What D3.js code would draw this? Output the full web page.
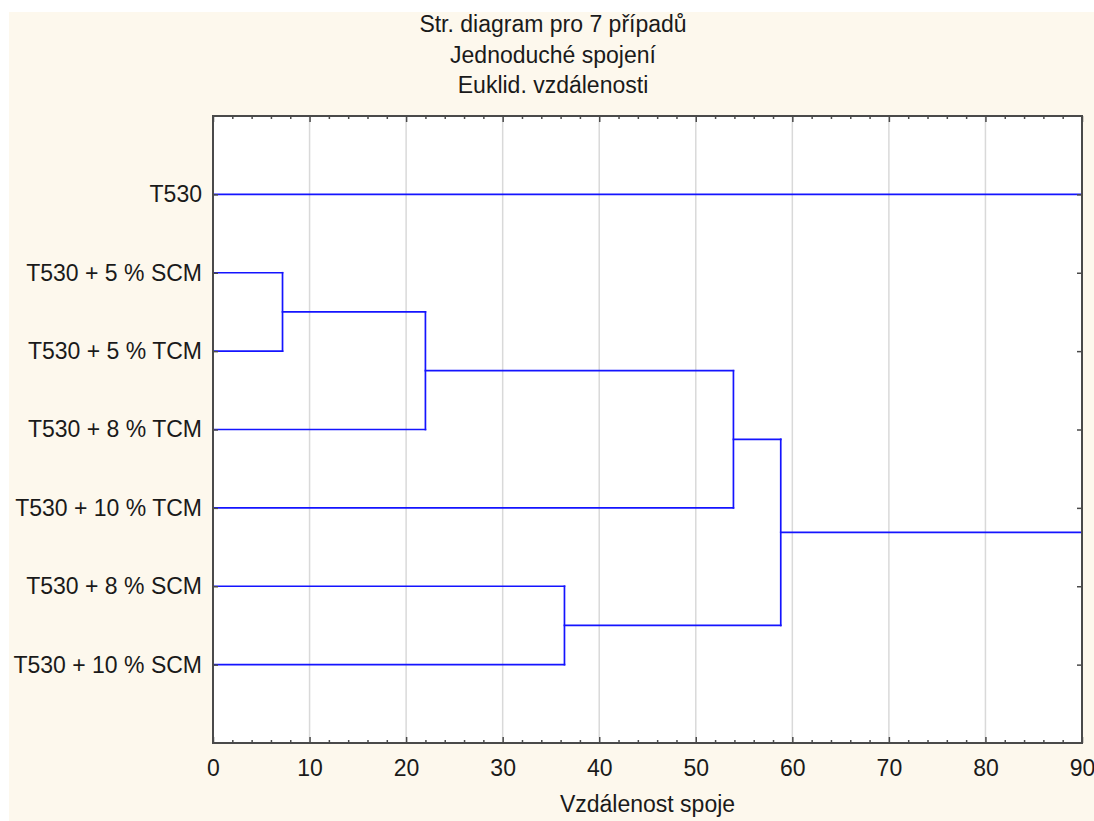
<!DOCTYPE html>
<html>
<head>
<meta charset="utf-8">
<script src="https://cdn.jsdelivr.net/npm/d3@7"></script>
<style>
  html, body { margin: 0; padding: 0; background: #ffffff; }
  svg { display: block; font-family: "Liberation Sans", Arial, sans-serif; }
</style>
</head>
<body>
<svg id="chart" width="1094" height="821"></svg>
<script>
// Leaf order along the vertical axis (top to bottom)
const leaves = [
  "T530",
  "T530 + 5 % SCM",
  "T530 + 5 % TCM",
  "T530 + 8 % TCM",
  "T530 + 10 % TCM",
  "T530 + 8 % SCM",
  "T530 + 10 % SCM"
];

// Single-linkage merge steps: [first member, second member, linkage distance]
const mergeIds     = ["m1", "m2", "m3", "m4", "m5", "m6"];
const mergeFirst   = ["T530 + 5 % SCM", "m1", "m2", "T530 + 8 % SCM", "m3", "T530"];
const mergeSecond  = ["T530 + 5 % TCM", "T530 + 8 % TCM", "T530 + 10 % TCM", "T530 + 10 % SCM", "m4", "m5"];
const mergeHeights = [7.2, 22.0, 53.9, 36.4, 58.8, 90];

// Axis definition
const xDomain = [0, 90];
const xMajorTicks = [0, 10, 20, 30, 40, 50, 60, 70, 80, 90];
const xMinorStep = 2;

const titleLines = ["Str. diagram pro 7 případů", "Jednoduché spojení", "Euklid. vzdálenosti"];
const xTitle = "Vzdálenost spoje";

const W = 1094, H = 821;
const plot = { left: 213, right: 1082, top: 116, bottom: 743 };
const fontSize = 23;
const textColor = "#1a1a1a";

const svg = d3.select("#chart");

// Panel background
svg.append("rect").attr("x", 0).attr("y", 0).attr("width", W).attr("height", H).attr("fill", "#ffffff");
svg.append("rect").attr("x", 9).attr("y", 12).attr("width", W - 9).attr("height", H - 12).attr("fill", "#fdf8ed");
svg.append("rect")
  .attr("x", plot.left).attr("y", plot.top)
  .attr("width", plot.right - plot.left).attr("height", plot.bottom - plot.top)
  .attr("fill", "#ffffff");

const x = d3.scaleLinear().domain(xDomain).range([plot.left, plot.right]);
const y = d3.scalePoint().domain(leaves).range([plot.top, plot.bottom]).padding(1);

// Vertical grid lines at major ticks
svg.append("g").selectAll("line")
  .data(xMajorTicks.filter(t => t > xDomain[0] && t < xDomain[1]))
  .join("line")
  .attr("x1", d => x(d)).attr("x2", d => x(d))
  .attr("y1", plot.top).attr("y2", plot.bottom)
  .attr("stroke", "#d9d9d9").attr("stroke-width", 1.5);

// Compute node positions for the dendrogram
const nodePos = new Map();
leaves.forEach(l => nodePos.set(l, { x: x(0), y: y(l) }));
const segs = [];
mergeIds.forEach((id, i) => {
  const a = nodePos.get(mergeFirst[i]);
  const b = nodePos.get(mergeSecond[i]);
  const hx = x(mergeHeights[i]);
  segs.push([a.x, a.y, hx, a.y]);
  segs.push([b.x, b.y, hx, b.y]);
  segs.push([hx, a.y, hx, b.y]);
  nodePos.set(id, { x: hx, y: (a.y + b.y) / 2 });
});

svg.append("defs").append("clipPath").attr("id", "plotClip")
  .append("rect")
  .attr("x", plot.left).attr("y", plot.top)
  .attr("width", plot.right - plot.left).attr("height", plot.bottom - plot.top);

svg.append("g").attr("clip-path", "url(#plotClip)")
  .selectAll("line").data(segs).join("line")
  .attr("x1", d => d[0]).attr("y1", d => d[1])
  .attr("x2", d => d[2]).attr("y2", d => d[3])
  .attr("stroke", "#1414ff").attr("stroke-width", 1.7)
  .attr("stroke-linecap", "square");

// Frame and inward ticks
const frameColor = "#4a4a4a";
const minorTicks = d3.range(xDomain[0], xDomain[1] + 0.001, xMinorStep).filter(t => !xMajorTicks.includes(t));

const bottomAxis = d3.axisBottom(x).tickValues(xMajorTicks).tickSize(-6).tickPadding(17).tickFormat(d3.format("d"));
const gB = svg.append("g").attr("transform", `translate(0,${plot.bottom})`).call(bottomAxis);
gB.select(".domain").remove();
gB.selectAll(".tick line").attr("stroke", frameColor).attr("stroke-width", 1.5);
gB.selectAll(".tick text").attr("font-size", fontSize).attr("fill", textColor)
  .attr("font-family", "'Liberation Sans', Arial, sans-serif");

const gBm = svg.append("g").attr("transform", `translate(0,${plot.bottom})`)
  .call(d3.axisBottom(x).tickValues(minorTicks).tickSize(-3).tickFormat(""));
gBm.select(".domain").remove();
gBm.selectAll(".tick line").attr("stroke", frameColor).attr("stroke-width", 1.5);

const gT = svg.append("g").attr("transform", `translate(0,${plot.top})`)
  .call(d3.axisTop(x).tickValues(xMajorTicks).tickSize(-6).tickFormat(""));
gT.select(".domain").remove();
gT.selectAll(".tick line").attr("stroke", frameColor).attr("stroke-width", 1.5);
const gTm = svg.append("g").attr("transform", `translate(0,${plot.top})`)
  .call(d3.axisTop(x).tickValues(minorTicks).tickSize(-3).tickFormat(""));
gTm.select(".domain").remove();
gTm.selectAll(".tick line").attr("stroke", frameColor).attr("stroke-width", 1.5);

const gL = svg.append("g").attr("transform", `translate(${plot.left},0)`)
  .call(d3.axisLeft(y).tickSize(-5).tickPadding(11));
gL.select(".domain").remove();
gL.selectAll(".tick line").attr("stroke", frameColor).attr("stroke-width", 1.5);
gL.selectAll(".tick text").attr("font-size", fontSize).attr("fill", textColor)
  .attr("font-family", "'Liberation Sans', Arial, sans-serif");

const gR = svg.append("g").attr("transform", `translate(${plot.right},0)`)
  .call(d3.axisRight(y).tickSize(-5).tickFormat(""));
gR.select(".domain").remove();
gR.selectAll(".tick line").attr("stroke", frameColor).attr("stroke-width", 1.5);

svg.append("rect")
  .attr("x", plot.left).attr("y", plot.top)
  .attr("width", plot.right - plot.left).attr("height", plot.bottom - plot.top)
  .attr("fill", "none").attr("stroke", frameColor).attr("stroke-width", 2);

// Titles, centred on the panel
svg.append("g").selectAll("text").data(titleLines).join("text")
  .attr("x", 553)
  .attr("y", (d, i) => 32 + i * 30.5)
  .attr("text-anchor", "middle")
  .attr("font-size", fontSize).attr("fill", textColor)
  .text(d => d);

svg.append("text")
  .attr("x", (plot.left + plot.right) / 2).attr("y", 812)
  .attr("text-anchor", "middle")
  .attr("font-size", fontSize).attr("fill", textColor)
  .text(xTitle);
</script>
</body>
</html>
